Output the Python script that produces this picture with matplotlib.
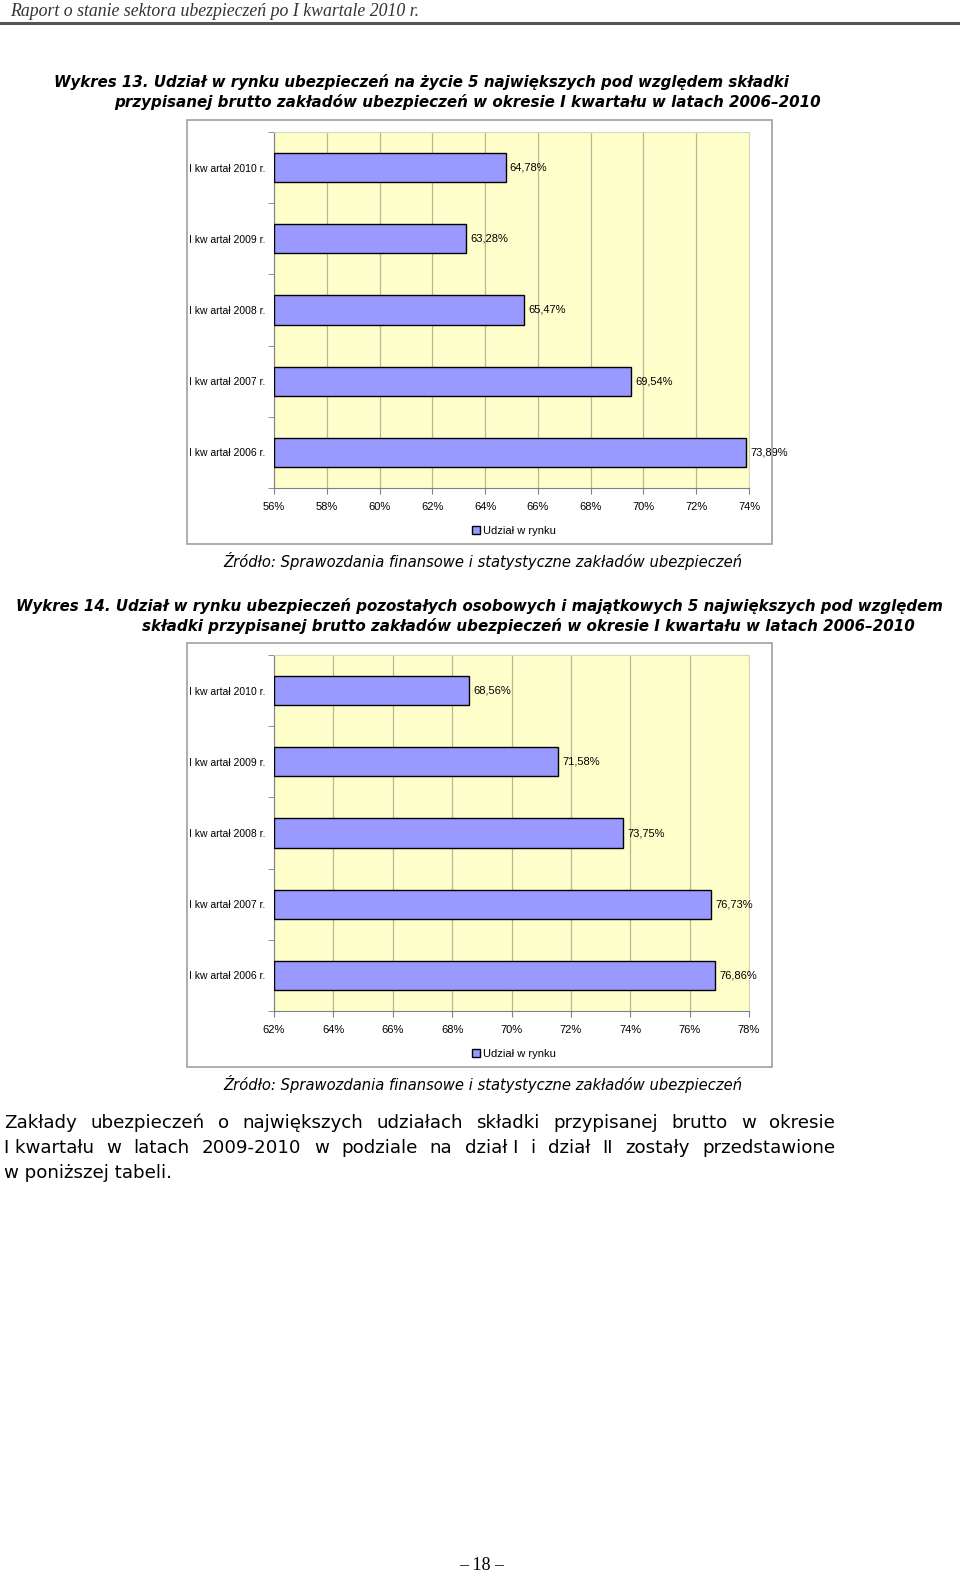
import matplotlib.pyplot as plt
from matplotlib.patches import Rectangle

# page size in pixels
W, H = 960, 1577

quarters = ['I kw artał 2010 r.', 'I kw artał 2009 r.', 'I kw artał 2008 r.',
            'I kw artał 2007 r.', 'I kw artał 2006 r.']
life_share = [64.78, 63.28, 65.47, 69.54, 73.89]
nonlife_share = [68.56, 71.58, 73.75, 76.73, 76.86]
life_ticks = [56, 58, 60, 62, 64, 66, 68, 70, 72, 74]
nonlife_ticks = [62, 64, 66, 68, 70, 72, 74, 76, 78]

small = ['Liberation Sans', 'DejaVu Sans']
fs = 8

fig = plt.figure(figsize=(9.6, 15.77), dpi=100)
fig.patch.set_facecolor('white')
renderer = fig.canvas.get_renderer()


def fx(x):
    return x / W


def fy(y):
    return 1 - y / H


def put(x, y, s, width=None, **kw):
    # place text at pixel position, optionally scale font to a target width
    t = fig.text(fx(x), fy(y), s, va='center', **kw)
    if width:
        w = t.get_window_extent(renderer).width
        t.set_fontsize(t.get_fontsize() * width / w)
    return t


def justify(x0, x1, y, words, size, **kw):
    items = [fig.text(0, fy(y), w, va='center', fontsize=size, **kw) for w in words]
    widths = [t.get_window_extent(renderer).width for t in items]
    gap = (x1 - x0 - sum(widths)) / (len(words) - 1)
    x = x0
    for t, w in zip(items, widths):
        t.set_x(fx(x))
        x += w + gap


def bar_chart(top, values, ticks):
    # outer frame
    fig.patches.append(Rectangle((fx(187), fy(top + 424)), (772 - 187) / W, 424 / H,
                                 transform=fig.transFigure, fill=False,
                                 ec='#a0a0a0', lw=1.2))
    ax = fig.add_axes([fx(274), fy(top + 368), (749 - 274) / W, 356 / H])
    ax.set_facecolor('#ffffcc')
    base = ticks[0]
    bars = ax.barh(range(len(values)), [v - base for v in values], left=base,
                   height=0.41, color='#9999ff', edgecolor='black', lw=1,
                   label='Udział w rynku', zorder=3)
    ax.bar_label(bars, labels=[f'{v:.2f}%'.replace('.', ',') for v in values],
                 padding=3, fontsize=fs, family=small)
    ax.set_xlim(ticks[0], ticks[-1])
    ax.set_ylim(len(values) - 0.5, -0.5)
    ax.set_xticks(ticks)
    ax.set_xticklabels([f'{t}%' for t in ticks], fontsize=fs, family=small)
    ax.set_yticks(range(len(values)))
    ax.set_yticklabels(quarters, fontsize=7.5, family=small)
    ax.set_yticks([i - 0.5 for i in range(len(values) + 1)], minor=True)
    ax.tick_params(axis='y', which='major', length=0, pad=6)
    ax.tick_params(axis='y', which='minor', length=4, color='#808080')
    ax.tick_params(axis='x', length=4, color='#808080', pad=6)
    ax.grid(axis='x', color='#b8b898', lw=0.9, zorder=0)
    for side in ['left', 'bottom']:
        ax.spines[side].set_color('#808080')
    for side in ['top', 'right']:
        ax.spines[side].set_color('#d8d8b8')
    ax.legend(loc='center', bbox_to_anchor=(fx(514), fy(top + 411)),
              bbox_transform=fig.transFigure, frameon=False,
              prop={'family': small, 'size': fs},
              handlelength=0.7, handleheight=0.7, handletextpad=0.3)
    put(223, top + 441, 'Źródło: Sprawozdania finansowe i statystyczne zakładów ubezpieczeń',
        width=517, fontsize=12, style='italic')
    return ax


# header
put(10, 11, 'Raport o stanie sektora ubezpieczeń po I kwartale 2010 r.', width=409,
    fontsize=14, family='Liberation Serif', style='italic', color='#333333')
fig.add_artist(plt.Line2D([0, 1], [fy(23), fy(23)], transform=fig.transFigure,
                          color='#555555', lw=2.2))

# chart 13
put(54, 82, 'Wykres 13. Udział w rynku ubezpieczeń na życie 5 największych pod względem składki',
    width=736, fontsize=12, weight='bold', style='italic')
put(114, 102, 'przypisanej brutto zakładów ubezpieczeń w okresie I kwartału w latach 2006–2010',
    width=708, fontsize=12, weight='bold', style='italic')
bar_chart(120, life_share, life_ticks)

# chart 14
put(16, 606, 'Wykres 14. Udział w rynku ubezpieczeń pozostałych osobowych i majątkowych 5 największych pod względem',
    width=930, fontsize=12, weight='bold', style='italic')
put(142, 626, 'składki przypisanej brutto zakładów ubezpieczeń w okresie I kwartału w latach 2006–2010',
    width=774, fontsize=12, weight='bold', style='italic')
bar_chart(643, nonlife_share, nonlife_ticks)

# paragraph below the charts
last = put(4, 1173, 'w poniższej tabeli.', width=169, fontsize=14)
size = last.get_fontsize()
justify(4, 835, 1123, 'Zakłady ubezpieczeń o największych udziałach składki przypisanej brutto w okresie'.split(), size)
justify(4, 835, 1148, ['I kwartału', 'w', 'latach', '2009-2010', 'w', 'podziale', 'na',
                       'dział I', 'i', 'dział', 'II', 'zostały', 'przedstawione'], size)

# page number
fig.text(fx(482), fy(1565), '– 18 –', ha='center', va='center', fontsize=13,
         family='Liberation Serif')

fig.savefig('out.png', dpi=100)
